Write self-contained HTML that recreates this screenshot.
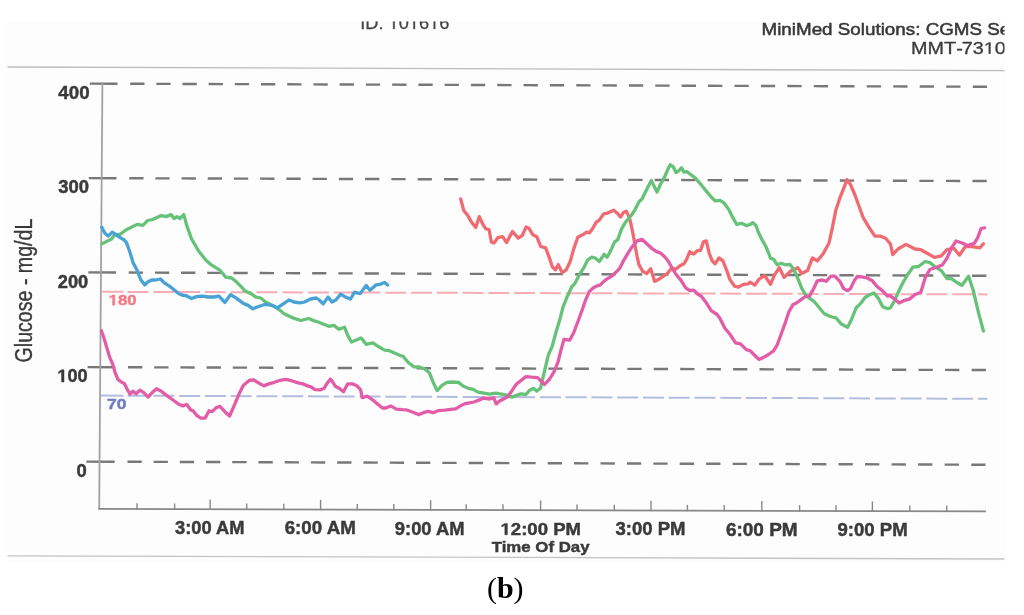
<!DOCTYPE html>
<html><head><meta charset="utf-8"><style>
html,body{margin:0;padding:0;background:#fff;}
body{width:1024px;height:615px;overflow:hidden;position:relative;}
svg{position:absolute;left:0;top:0;}
</style></head><body>
<svg width="1024" height="615" viewBox="0 0 1024 615">
<defs><filter id="bl" x="-2%" y="-2%" width="104%" height="104%"><feGaussianBlur stdDeviation="0.45"/></filter><clipPath id="clipR"><rect x="0" y="0" width="1004.5" height="615"/></clipPath></defs>
<rect x="0" y="0" width="1024" height="615" fill="#fff"/>
<g filter="url(#bl)">
<rect x="7" y="21.4" width="998" height="541" fill="#fdfdfd"/>
<line x1="7.5" y1="67.0" x2="1004.5" y2="70.6" stroke="#bdbdbd" stroke-width="1.3"/>
<line x1="7.5" y1="555.8" x2="1004.5" y2="559.0" stroke="#c4c4c4" stroke-width="1.3"/>
<g stroke="#787878" stroke-width="2.4" fill="none"><path d="M89.80,83.61L117.48,83.71M130.20,83.76L144.50,83.81M156.34,83.85L170.64,83.90M182.48,83.94L196.78,83.99M208.64,84.03L222.94,84.08M234.82,84.12L249.12,84.17M261.00,84.21L275.30,84.26M287.20,84.30L301.50,84.35M313.41,84.40L327.71,84.45M339.63,84.49L353.93,84.54M365.87,84.58L380.17,84.63M392.12,84.67L406.42,84.72M418.38,84.76L432.68,84.81M444.65,84.85L458.95,84.90M470.93,84.95L485.23,85.00M497.23,85.04L511.53,85.09M523.54,85.13L537.84,85.18M549.87,85.22L564.17,85.27M576.20,85.31L590.50,85.36M602.55,85.41L616.85,85.46M628.91,85.50L643.21,85.55M655.29,85.59L669.59,85.64M681.67,85.68L695.97,85.73M708.07,85.78L722.37,85.83M734.48,85.87L748.78,85.92M760.90,85.96L775.20,86.01M787.34,86.05L801.64,86.10M813.79,86.14L828.09,86.19M840.25,86.24L854.55,86.29M866.73,86.33L881.03,86.38M893.21,86.42L907.51,86.47M919.71,86.51L934.01,86.56M946.22,86.61L960.52,86.66M972.75,86.70L987.05,86.75"/><path d="M88.80,178.11L116.49,178.20M129.23,178.25L143.53,178.29M155.38,178.33L169.68,178.38M181.55,178.42L195.85,178.46M207.73,178.50L222.03,178.55M233.92,178.59L248.22,178.63M260.13,178.67L274.43,178.72M286.35,178.76L300.65,178.81M312.58,178.85L326.88,178.89M338.82,178.93L353.12,178.98M365.08,179.02L379.38,179.06M391.35,179.10L405.65,179.15M417.63,179.19L431.93,179.24M443.92,179.27L458.22,179.32M470.23,179.36L484.53,179.41M496.55,179.45L510.85,179.49M522.88,179.53L537.18,179.58M549.22,179.62L563.52,179.67M575.58,179.70L589.88,179.75M601.95,179.79L616.25,179.84M628.33,179.88L642.63,179.92M654.72,179.96L669.02,180.01M681.13,180.05L695.43,180.10M707.55,180.14L721.85,180.18M733.98,180.22L748.28,180.27M760.43,180.31L774.73,180.36M786.88,180.40L801.18,180.44M813.35,180.48L827.65,180.53M839.84,180.57L854.14,180.62M866.33,180.66L880.63,180.70M892.84,180.74L907.14,180.79M919.36,180.83L933.66,180.88M945.89,180.92L960.19,180.96M972.44,181.00L986.74,181.05"/><path d="M88.30,272.41L116.00,272.51M128.73,272.56L143.03,272.61M154.89,272.65L169.19,272.71M181.06,272.75L195.36,272.80M207.24,272.85L221.54,272.90M233.44,272.95L247.74,273.00M259.65,273.04L273.95,273.10M285.87,273.14L300.17,273.19M312.10,273.24L326.40,273.29M338.35,273.34L352.65,273.39M364.61,273.43L378.91,273.49M390.88,273.53L405.18,273.59M417.16,273.63L431.46,273.68M443.46,273.73L457.76,273.78M469.77,273.83L484.07,273.88M496.09,273.92L510.39,273.98M522.43,274.02L536.73,274.07M548.77,274.12L563.07,274.17M575.13,274.22L589.43,274.27M601.50,274.32L615.80,274.37M627.89,274.41L642.19,274.47M654.29,274.51L668.59,274.57M680.70,274.61L695.00,274.66M707.12,274.71L721.42,274.76M733.55,274.81L747.85,274.86M760.00,274.91L774.30,274.96M786.46,275.00L800.76,275.06M812.93,275.10L827.23,275.16M839.42,275.20L853.72,275.25M865.92,275.30L880.22,275.35M892.43,275.40L906.73,275.45M918.95,275.50L933.25,275.55M945.49,275.60L959.79,275.65M972.03,275.69L986.33,275.75"/><path d="M87.60,367.11L115.30,367.20M128.04,367.24L142.34,367.29M154.21,367.33L168.51,367.37M180.39,367.41L194.69,367.46M206.58,367.50L220.88,367.55M232.78,367.58L247.08,367.63M259.00,367.67L273.30,367.72M285.23,367.76L299.53,367.80M311.47,367.84L325.77,367.89M337.73,367.93L352.03,367.97M364.00,368.01L378.30,368.06M390.28,368.10L404.58,368.15M416.57,368.19L430.87,368.23M442.88,368.27L457.18,368.32M469.19,368.36L483.49,368.40M495.53,368.44L509.83,368.49M521.87,368.53L536.17,368.58M548.22,368.62L562.52,368.66M574.59,368.70L588.89,368.75M600.97,368.79L615.27,368.83M627.37,368.87L641.67,368.92M653.77,368.96L668.07,369.01M680.19,369.05L694.49,369.09M706.62,369.13L720.92,369.18M733.07,369.22L747.37,369.27M759.52,369.31L773.82,369.35M785.99,369.39L800.29,369.44M812.48,369.48L826.78,369.53M838.97,369.57L853.27,369.61M865.48,369.65L879.78,369.70M892.00,369.74L906.30,369.79M918.53,369.83L932.83,369.87M945.07,369.91L959.37,369.96M971.63,370.00L985.93,370.05"/><path d="M86.40,461.60L114.71,461.70M127.45,461.75L141.75,461.80M153.62,461.84L167.92,461.89M179.81,461.93L194.11,461.98M206.00,462.02L220.30,462.07M232.21,462.11L246.51,462.16M258.44,462.20L272.74,462.25M284.67,462.30L298.97,462.35M310.92,462.39L325.22,462.44M337.18,462.48L351.48,462.53M363.46,462.57L377.76,462.62M389.74,462.66L404.04,462.71M416.04,462.75L430.34,462.80M442.35,462.85L456.65,462.90M468.68,462.94L482.98,462.99M495.02,463.03L509.32,463.08M521.36,463.12L535.66,463.17M547.73,463.21L562.03,463.26M574.10,463.31L588.40,463.36M600.49,463.40L614.79,463.45M626.89,463.49L641.19,463.54M653.30,463.58L667.60,463.63M679.72,463.68L694.02,463.73M706.16,463.77L720.46,463.82M732.61,463.86L746.91,463.91M759.07,463.95L773.37,464.00M785.55,464.05L799.85,464.10M812.04,464.14L826.34,464.19M838.54,464.23L852.84,464.28M865.05,464.32L879.35,464.37M891.57,464.42L905.87,464.47M918.11,464.51L932.41,464.56M944.66,464.60L958.96,464.65M971.23,464.69L985.53,464.74"/></g>
<path d="M101.40,291.80L123.60,291.87M127.60,291.88L148.60,291.94M153.36,291.96L174.36,292.02M179.13,292.03L200.13,292.09M204.90,292.11L225.90,292.17M230.67,292.18L251.67,292.24M256.43,292.26L277.43,292.32M282.20,292.33L303.20,292.40M307.97,292.41L328.97,292.47M333.73,292.49L354.73,292.55M359.50,292.56L380.50,292.62M385.27,292.64L406.27,292.70M411.03,292.71L432.03,292.77M436.80,292.79L457.80,292.85M462.57,292.86L483.57,292.92M488.33,292.94L509.33,293.00M514.10,293.01L535.10,293.08M539.87,293.09L560.87,293.15M565.64,293.16L586.64,293.23M591.40,293.24L612.40,293.30M617.17,293.32L638.17,293.38M642.94,293.39L663.94,293.45M668.70,293.47L689.70,293.53M694.47,293.54L715.47,293.60M720.24,293.62L741.24,293.68M746.00,293.69L767.00,293.76M771.77,293.77L792.77,293.83M797.54,293.84L818.54,293.91M823.31,293.92L844.31,293.98M849.07,294.00L870.07,294.06M874.84,294.07L895.84,294.13M900.61,294.15L921.61,294.21M926.37,294.22L947.37,294.28M952.14,294.30L973.14,294.36M977.91,294.37L987.50,294.40" stroke="#f6adb5" stroke-width="2.0" fill="none"/><path d="M100.80,395.60L123.60,395.69M127.60,395.70L148.60,395.78M153.36,395.79L174.36,395.87M179.13,395.89L200.13,395.96M204.90,395.98L225.90,396.05M230.67,396.07L251.67,396.15M256.43,396.16L277.43,396.24M282.20,396.26L303.20,396.33M307.97,396.35L328.97,396.43M333.73,396.44L354.73,396.52M359.50,396.54L380.50,396.61M385.27,396.63L406.27,396.70M411.03,396.72L432.03,396.80M436.80,396.82L457.80,396.89M462.57,396.91L483.57,396.98M488.33,397.00L509.33,397.08M514.10,397.09L535.10,397.17M539.87,397.19L560.87,397.26M565.64,397.28L586.64,397.36M591.40,397.37L612.40,397.45M617.17,397.47L638.17,397.54M642.94,397.56L663.94,397.63M668.70,397.65L689.70,397.73M694.47,397.74L715.47,397.82M720.24,397.84L741.24,397.91M746.00,397.93L767.00,398.01M771.77,398.02L792.77,398.10M797.54,398.12L818.54,398.19M823.31,398.21L844.31,398.29M849.07,398.30L870.07,398.38M874.84,398.40L895.84,398.47M900.61,398.49L921.61,398.56M926.37,398.58L947.37,398.66M952.14,398.67L973.14,398.75M977.91,398.77L987.50,398.80" stroke="#b3bedf" stroke-width="2.0" fill="none"/>
<g stroke="#888" stroke-width="1.8" fill="none" stroke-linecap="square"><line x1="102.4" y1="83.3" x2="99.2" y2="508.4" stroke="#a2a2a2"/><line x1="99.2" y1="508.9" x2="985" y2="511.4"/><line x1="137" y1="509.01" x2="137" y2="504.01" stroke-width="1.4"/><line x1="174.6" y1="509.11" x2="174.6" y2="504.11" stroke-width="1.4"/><line x1="210.1" y1="509.21" x2="210.1" y2="500.21" stroke-width="1.4"/><line x1="246.7" y1="509.32" x2="246.7" y2="504.32" stroke-width="1.4"/><line x1="283.8" y1="509.42" x2="283.8" y2="504.42" stroke-width="1.4"/><line x1="320.6" y1="509.52" x2="320.6" y2="500.52" stroke-width="1.4"/><line x1="357.3" y1="509.63" x2="357.3" y2="504.63" stroke-width="1.4"/><line x1="393.8" y1="509.73" x2="393.8" y2="504.73" stroke-width="1.4"/><line x1="430.6" y1="509.84" x2="430.6" y2="500.84" stroke-width="1.4"/><line x1="466.2" y1="509.94" x2="466.2" y2="504.94" stroke-width="1.4"/><line x1="503" y1="510.04" x2="503" y2="505.04" stroke-width="1.4"/><line x1="540.6" y1="510.15" x2="540.6" y2="501.15" stroke-width="1.4"/><line x1="577" y1="510.25" x2="577" y2="505.25" stroke-width="1.4"/><line x1="614.3" y1="510.35" x2="614.3" y2="505.35" stroke-width="1.4"/><line x1="651" y1="510.46" x2="651" y2="501.46" stroke-width="1.4"/><line x1="687.4" y1="510.56" x2="687.4" y2="505.56" stroke-width="1.4"/><line x1="724.2" y1="510.66" x2="724.2" y2="505.66" stroke-width="1.4"/><line x1="761.8" y1="510.77" x2="761.8" y2="501.77" stroke-width="1.4"/><line x1="799.6" y1="510.88" x2="799.6" y2="505.88" stroke-width="1.4"/><line x1="836" y1="510.98" x2="836" y2="505.98" stroke-width="1.4"/><line x1="872.4" y1="511.08" x2="872.4" y2="502.08" stroke-width="1.4"/><line x1="909.8" y1="511.19" x2="909.8" y2="506.19" stroke-width="1.4"/><line x1="946.7" y1="511.29" x2="946.7" y2="506.29" stroke-width="1.4"/></g>
<path d="M460.7,199.0 L463.7,210.4 L467.6,215.2 L471.5,222.1 L475.8,227.5 L479.3,216.6 L483.2,225.0 L486.1,228.9 L489.0,229.5 L491.4,242.0 L493.9,243.1 L497.8,237.7 L502.7,236.7 L506.6,242.6 L512.4,231.4 L518.3,238.1 L522.2,235.7 L526.1,227.0 L529.0,228.3 L532.9,234.8 L536.8,236.7 L540.7,246.5 L545.6,247.8 L549.5,258.2 L552.4,267.0 L555.4,269.9 L558.3,264.6 L562.2,272.8 L566.1,269.9 L570.0,262.1 L573.9,248.4 L577.8,237.3 L582.7,234.8 L586.6,232.2 L589.5,232.8 L592.4,228.9 L596.3,222.1 L599.3,220.1 L603.2,214.3 L606.1,213.3 L608.8,212.6 L613.7,210.2 L617.6,213.5 L620.5,217.0 L623.4,212.6 L626.3,211.2 L629.3,217.4 L631.2,225.2 L633.2,235.0 L635.1,245.7 L637.1,256.5 L639.0,264.8 L642.9,271.6 L646.8,273.5 L650.7,268.7 L654.6,281.3 L658.5,279.4 L662.4,276.9 L667.3,273.5 L671.2,268.7 L676.1,269.0 L680.0,265.7 L683.9,263.8 L686.8,258.9 L689.8,251.6 L693.7,254.1 L697.6,250.6 L700.5,250.6 L703.4,241.8 L706.3,240.9 L709.3,253.5 L712.2,260.9 L715.1,263.8 L719.0,257.9 L722.9,260.9 L726.8,270.6 L729.8,279.4 L734.6,286.2 L738.5,287.2 L743.4,284.3 L748.3,283.9 L750.0,282.2 L754.9,285.2 L758.8,279.4 L764.6,275.5 L770.5,284.3 L774.4,275.2 L779.3,267.7 L784.1,277.4 L790.0,271.6 L797.8,267.7 L801.7,273.5 L807.6,270.6 L812.4,257.9 L817.3,260.9 L823.2,253.8 L829.0,243.0 L832.0,229.4 L835.9,209.9 L839.8,198.2 L843.7,188.4 L847.0,179.6 L850.5,184.5 L855.4,196.2 L859.3,207.0 L863.2,217.7 L869.0,227.4 L874.9,236.2 L880.7,236.2 L885.6,238.2 L890.5,244.0 L892.7,254.7 L898.0,249.0 L906.0,244.4 L915.0,249.0 L920.8,249.7 L927.6,253.5 L934.4,257.4 L941.3,255.8 L946.9,249.7 L953.8,248.3 L959.5,255.1 L965.2,246.7 L972.0,246.7 L980.0,247.8 L983.4,243.7" stroke="#f06a72" stroke-width="3.3" fill="none" stroke-linejoin="round" stroke-linecap="round"/><path d="M101.8,243.9 L106.7,241.4 L111.6,239.0 L114.5,235.1 L120.4,234.1 L126.2,229.7 L132.1,226.9 L137.0,224.4 L142.8,225.4 L147.7,220.5 L152.6,219.5 L157.4,217.2 L161.3,215.6 L166.2,216.6 L171.1,214.6 L174.0,218.5 L177.0,216.6 L179.9,218.5 L183.8,214.6 L186.7,225.4 L191.6,239.0 L198.4,250.7 L206.2,260.5 L212.1,265.4 L219.9,270.2 L225.7,277.1 L231.6,278.0 L235.5,281.0 L240.4,285.9 L245.2,291.1 L251.1,293.7 L255.9,297.1 L260.7,298.0 L265.6,302.0 L273.4,305.9 L279.3,309.8 L284.1,313.7 L292.0,317.6 L300.7,320.5 L308.5,318.5 L314.4,320.9 L318.3,322.0 L324.1,324.4 L329.0,326.3 L333.9,325.4 L338.8,329.3 L344.6,327.3 L347.6,335.1 L351.5,342.0 L356.3,340.0 L361.2,338.0 L366.1,344.3 L372.9,342.9 L378.8,346.8 L384.6,350.1 L389.5,350.7 L394.4,353.1 L400.2,355.6 L402.9,356.1 L407.8,362.0 L413.7,366.8 L418.5,366.8 L424.4,368.8 L429.3,372.7 L433.2,382.4 L437.1,390.6 L442.0,385.4 L446.8,382.4 L452.7,382.0 L458.5,382.4 L463.4,386.3 L468.3,388.3 L473.2,389.3 L478.0,392.2 L483.9,393.2 L489.8,394.1 L495.6,393.2 L501.5,394.1 L506.3,395.1 L512.2,397.1 L517.1,395.1 L521.0,393.8 L525.9,394.5 L529.8,390.2 L533.7,388.3 L536.6,391.2 L540.5,388.3 L544.4,371.7 L548.3,355.1 L552.2,346.3 L556.1,331.7 L560.0,319.0 L562.9,307.3 L566.8,297.6 L571.7,286.8 L574.9,283.5 L578.8,275.7 L583.7,267.9 L587.6,260.1 L591.5,257.2 L595.4,258.2 L599.3,261.5 L604.1,254.3 L607.1,257.2 L610.7,250.6 L614.6,241.8 L617.6,239.9 L621.5,229.1 L625.4,222.3 L631.2,215.5 L635.1,209.6 L639.0,201.8 L642.0,198.9 L645.9,191.1 L651.3,180.4 L654.6,187.2 L657.0,192.1 L660.5,184.3 L664.4,177.4 L667.3,170.6 L670.2,164.8 L673.2,166.7 L676.1,172.6 L679.0,170.6 L681.6,167.7 L683.9,172.2 L686.8,171.6 L690.7,174.5 L695.6,178.4 L701.5,185.2 L706.3,191.1 L711.2,197.0 L715.1,200.9 L720.0,200.3 L723.9,202.8 L728.8,209.6 L732.7,217.4 L736.6,224.3 L741.5,223.3 L746.3,225.6 L750.0,224.5 L752.9,222.6 L755.9,225.5 L758.8,233.3 L761.7,239.1 L765.6,246.0 L768.5,252.8 L770.5,258.3 L773.4,259.0 L777.3,264.8 L781.2,263.2 L785.1,264.8 L790.0,264.4 L793.9,269.6 L797.8,278.4 L801.7,288.2 L805.6,295.0 L810.5,298.9 L814.4,301.8 L819.3,307.7 L824.1,313.5 L828.0,315.5 L832.0,317.0 L835.9,317.8 L841.7,324.3 L847.6,327.2 L851.5,319.4 L856.3,307.7 L861.2,302.8 L865.1,297.5 L869.0,295.0 L873.9,293.0 L878.8,298.9 L882.7,306.7 L887.6,308.7 L890.5,307.7 L894.4,300.9 L898.3,292.1 L903.2,282.3 L907.1,275.5 L912.8,267.2 L918.5,266.5 L925.3,261.5 L929.9,262.6 L935.6,267.2 L941.3,270.6 L947.0,278.6 L951.5,278.6 L956.1,282.0 L961.8,285.4 L968.6,276.3 L973.1,290.0 L978.8,313.9 L983.4,331.0" stroke="#66c278" stroke-width="3.3" fill="none" stroke-linejoin="round" stroke-linecap="round"/><path d="M101.8,227.3 L104.8,233.2 L108.3,236.1 L112.2,232.2 L115.5,234.1 L119.4,237.1 L124.3,240.0 L126.6,242.9 L130.1,252.7 L133.0,262.4 L137.0,270.2 L140.9,280.0 L144.8,284.9 L147.7,282.0 L151.6,280.0 L155.5,280.0 L160.4,279.0 L164.3,282.9 L169.1,285.9 L174.0,289.8 L178.9,293.7 L181.8,295.0 L185.7,295.6 L191.6,298.5 L196.5,296.6 L202.3,296.2 L208.2,297.0 L214.0,297.0 L218.9,296.2 L224.8,302.4 L230.6,294.6 L235.5,297.6 L243.3,303.4 L248.2,305.4 L252.9,308.8 L257.8,306.8 L264.6,304.5 L269.5,304.9 L273.4,305.9 L277.3,307.8 L283.2,303.9 L289.0,300.0 L293.9,302.0 L299.8,302.9 L304.6,302.0 L310.5,299.0 L316.3,298.0 L319.3,300.0 L323.2,303.9 L328.0,297.1 L332.0,302.0 L335.9,300.0 L340.7,294.1 L345.6,297.1 L350.5,299.0 L354.4,292.2 L360.2,293.6 L366.1,285.4 L370.0,290.2 L375.9,285.0 L379.8,284.4 L384.6,282.4 L387.6,285.0" stroke="#4aa2d6" stroke-width="3.3" fill="none" stroke-linejoin="round" stroke-linecap="round"/><path d="M101.4,330.7 L103.8,337.6 L106.7,347.3 L109.6,357.1 L112.6,363.9 L115.5,373.7 L118.0,379.5 L121.3,382.0 L124.3,383.4 L127.2,389.3 L130.1,394.1 L133.0,391.2 L136.0,393.8 L139.9,390.2 L143.8,392.6 L148.1,397.1 L152.6,392.2 L156.5,388.7 L161.3,391.2 L166.2,395.1 L173.0,400.0 L178.9,404.3 L182.8,405.9 L186.7,404.5 L190.6,409.8 L193.5,411.3 L196.5,415.2 L200.4,418.0 L205.2,418.1 L209.1,410.7 L212.1,411.7 L216.0,407.8 L219.9,406.4 L224.8,411.7 L229.6,416.0 L234.5,404.9 L239.4,393.2 L243.3,385.4 L249.1,380.5 L253.3,379.8 L258.1,382.6 L263.8,385.9 L269.5,383.6 L274.4,382.3 L280.1,380.3 L285.8,379.3 L291.5,380.7 L297.2,382.6 L302.8,383.9 L307.7,385.9 L311.0,386.8 L315.0,389.6 L319.9,389.9 L324.0,388.5 L327.2,383.1 L330.5,379.0 L332.9,382.3 L335.4,386.3 L339.4,388.5 L343.5,391.7 L347.6,383.9 L352.4,383.9 L356.5,385.5 L360.6,389.6 L362.2,397.7 L367.1,396.1 L372.0,399.3 L376.8,403.4 L382.5,408.0 L385.8,408.0 L390.7,405.9 L396.3,409.1 L402.0,409.6 L405.9,409.8 L411.7,411.7 L418.5,414.6 L423.4,412.7 L428.3,411.3 L433.2,412.7 L438.0,410.7 L444.9,410.1 L450.7,409.4 L455.6,408.8 L460.5,405.9 L464.4,403.9 L469.3,402.9 L474.1,402.0 L480.0,399.6 L483.9,398.0 L489.8,399.0 L493.7,397.7 L496.2,403.9 L499.5,401.0 L503.4,399.0 L507.3,397.1 L511.2,391.8 L516.1,384.4 L521.0,380.5 L525.9,376.6 L531.7,377.2 L537.6,377.6 L541.5,381.5 L544.4,384.4 L549.3,379.5 L554.1,371.7 L558.0,362.0 L561.0,350.2 L563.9,339.5 L569.8,340.1 L573.7,332.7 L578.5,320.0 L582.4,309.3 L585.4,300.5 L589.3,291.7 L593.2,287.8 L597.1,285.9 L600.0,285.2 L603.9,281.3 L607.8,278.4 L610.7,276.9 L615.6,272.6 L619.5,268.7 L623.4,260.9 L628.3,252.6 L632.2,246.7 L637.1,240.9 L642.0,239.3 L646.8,243.8 L651.7,248.3 L656.6,251.6 L660.5,253.0 L664.4,256.5 L668.3,261.3 L672.2,268.2 L676.1,274.5 L681.0,280.4 L685.9,288.2 L689.8,290.5 L693.7,290.1 L697.6,294.0 L701.5,296.4 L706.3,302.8 L711.2,310.6 L717.1,314.5 L720.0,318.4 L724.9,328.2 L729.8,334.0 L735.6,342.8 L740.5,343.8 L746.3,349.6 L750.0,350.6 L753.9,354.5 L758.8,359.4 L763.7,357.4 L768.5,354.5 L773.4,351.0 L777.3,344.8 L781.2,334.0 L785.1,323.3 L789.0,311.6 L792.9,304.8 L796.8,302.8 L800.7,299.9 L804.6,297.0 L809.5,296.0 L813.4,289.1 L817.3,280.8 L822.2,280.0 L826.1,281.3 L831.0,276.1 L834.9,276.1 L839.8,281.3 L843.7,288.6 L847.6,290.7 L850.5,288.6 L854.4,280.4 L857.3,276.5 L862.2,276.9 L867.1,278.0 L872.0,280.4 L876.8,286.2 L882.7,291.1 L887.6,296.0 L890.0,295.7 L894.6,299.1 L899.1,303.0 L903.7,300.7 L909.4,299.1 L915.1,294.5 L920.8,292.3 L925.3,277.4 L929.9,269.5 L936.7,267.2 L942.4,264.9 L947.0,258.1 L951.5,247.8 L956.1,241.0 L962.9,243.3 L967.4,245.6 L974.3,243.3 L977.7,237.6 L981.1,228.5 L984.5,227.8" stroke="#e35ca8" stroke-width="3.3" fill="none" stroke-linejoin="round" stroke-linecap="round"/>
<text transform="translate(58.30,98.51) scale(1.008,1)" font-family='"Liberation Sans", sans-serif' font-weight="bold" font-size="18.59" fill="#3a3a3a" stroke="#3a3a3a" stroke-width="0.45" >400</text><text transform="translate(58.30,192.72) scale(1.039,1)" font-family='"Liberation Sans", sans-serif' font-weight="bold" font-size="17.75" fill="#3a3a3a" stroke="#3a3a3a" stroke-width="0.45" >300</text><text transform="translate(57.80,287.52) scale(1.021,1)" font-family='"Liberation Sans", sans-serif' font-weight="bold" font-size="17.89" fill="#3a3a3a" stroke="#3a3a3a" stroke-width="0.45" >200</text><g transform="translate(57.30,382.02) scale(1.014,1)" fill="#3a3a3a" stroke="#3a3a3a" stroke-width="0.45" ><text x="9.95 19.90" y="0" font-family='"Liberation Sans", sans-serif' font-weight="bold" font-size="17.89">00</text><path transform="translate(0.00,0) scale(0.00873,-0.00873)" d="M478,0L478,1170L140,959L140,1180L493,1409L759,1409L759,0Z" vector-effect="non-scaling-stroke"/></g><text transform="translate(76.40,476.72) scale(1.012,1)" font-family='"Liberation Sans", sans-serif' font-weight="bold" font-size="18.17" fill="#3a3a3a" stroke="#3a3a3a" stroke-width="0.45" >0</text><g transform="translate(108.60,305.15) scale(1.134,1)" fill="#f27a85" stroke="#f27a85" stroke-width="0.45" ><text x="8.23 16.45" y="0" font-family='"Liberation Sans", sans-serif' font-weight="bold" font-size="14.79">80</text><path transform="translate(0.00,0) scale(0.00722,-0.00722)" d="M478,0L478,1170L140,959L140,1180L493,1409L759,1409L759,0Z" vector-effect="non-scaling-stroke"/></g><text transform="translate(107.10,409.05) scale(1.171,1)" font-family='"Liberation Sans", sans-serif' font-weight="bold" font-size="14.93" fill="#6e7bc0" stroke="#6e7bc0" stroke-width="0.45" >70</text><text transform="translate(175.10,533.62) scale(1.039,1)" font-family='"Liberation Sans", sans-serif' font-weight="bold" font-size="17.61" fill="#3a3a3a" stroke="#3a3a3a" stroke-width="0.45" >3:00 AM</text><text transform="translate(284.70,534.02) scale(1.063,1)" font-family='"Liberation Sans", sans-serif' font-weight="bold" font-size="17.61" fill="#3a3a3a" stroke="#3a3a3a" stroke-width="0.45" >6:00 AM</text><text transform="translate(394.80,534.62) scale(1.027,1)" font-family='"Liberation Sans", sans-serif' font-weight="bold" font-size="17.89" fill="#3a3a3a" stroke="#3a3a3a" stroke-width="0.45" >9:00 AM</text><g transform="translate(500.50,534.74) scale(1.127,1)" fill="#3a3a3a" stroke="#3a3a3a" stroke-width="0.45" ><text x="9.17 18.33 23.82 32.98 46.73 57.72" y="0" font-family='"Liberation Sans", sans-serif' font-weight="bold" font-size="16.48">2:00PM</text><path transform="translate(0.00,0) scale(0.00805,-0.00805)" d="M478,0L478,1170L140,959L140,1180L493,1409L759,1409L759,0Z" vector-effect="non-scaling-stroke"/></g><text transform="translate(615.50,535.22) scale(1.053,1)" font-family='"Liberation Sans", sans-serif' font-weight="bold" font-size="17.61" fill="#3a3a3a" stroke="#3a3a3a" stroke-width="0.45" >3:00 PM</text><text transform="translate(725.90,535.72) scale(1.070,1)" font-family='"Liberation Sans", sans-serif' font-weight="bold" font-size="17.75" fill="#3a3a3a" stroke="#3a3a3a" stroke-width="0.45" >6:00 PM</text><text transform="translate(837.50,536.02) scale(1.056,1)" font-family='"Liberation Sans", sans-serif' font-weight="bold" font-size="17.61" fill="#3a3a3a" stroke="#3a3a3a" stroke-width="0.45" >9:00 PM</text><g clip-path="url(#clipR)"><text transform="translate(761.50,35.13) scale(1.125,1)" font-family='"Liberation Sans", sans-serif' font-size="16.73" fill="#383838" stroke="#383838" stroke-width="0.5">MiniMed Solutions: CGMS Sensor</text></g><g clip-path="url(#clipR)"><g transform="translate(911.10,53.74) scale(1.213,1)" fill="#3c3c3c" stroke="#3c3c3c" stroke-width="0.3" ><text x="0.00 13.61 27.22 37.20 41.74 50.83 69.00" y="0" font-family='"Liberation Sans", sans-serif' font-weight="normal" font-size="16.34">MMT-730</text><path transform="translate(59.91,0) scale(0.00798,-0.00798)" d="M515,0L515,1237L197,1010L197,1180L530,1409L696,1409L696,0Z" vector-effect="non-scaling-stroke"/></g></g><g transform="translate(360.20,29.01) scale(0.980,1)" fill="#444" stroke="#444" stroke-width="0.3" ><text x="0.00 5.16 18.59 39.26 59.94 80.62" y="0" font-family='"Liberation Sans", sans-serif' font-weight="normal" font-size="18.59">ID:066</text><path transform="translate(28.92,0) scale(0.00908,-0.00908)" d="M515,0L515,1237L197,1010L197,1180L530,1409L696,1409L696,0Z" vector-effect="non-scaling-stroke"/><path transform="translate(49.60,0) scale(0.00908,-0.00908)" d="M515,0L515,1237L197,1010L197,1180L530,1409L696,1409L696,0Z" vector-effect="non-scaling-stroke"/><path transform="translate(70.28,0) scale(0.00908,-0.00908)" d="M515,0L515,1237L197,1010L197,1180L530,1409L696,1409L696,0Z" vector-effect="non-scaling-stroke"/></g><text transform="translate(491.70,552.17) scale(1.093,1)" font-family='"Liberation Sans", sans-serif' font-weight="bold" font-size="15.40" fill="#3a3a3a" stroke="#3a3a3a" stroke-width="0.45" >Time Of Day</text><text x="486.9" y="597.7" font-family='"Liberation Serif", serif' font-size="30" fill="#000">(<tspan font-weight="bold">b</tspan>)</text><text transform="translate(32.1,362.4) scale(1.18,1) rotate(-90)" font-family='"Liberation Sans", sans-serif' font-size="19.6" fill="#3a3a3a" stroke="#3a3a3a" stroke-width="0.3">Glucose - mg/dL</text>
</g>
<rect x="0" y="0" width="1024" height="21.4" fill="#fff"/>
</svg>
</body></html>
